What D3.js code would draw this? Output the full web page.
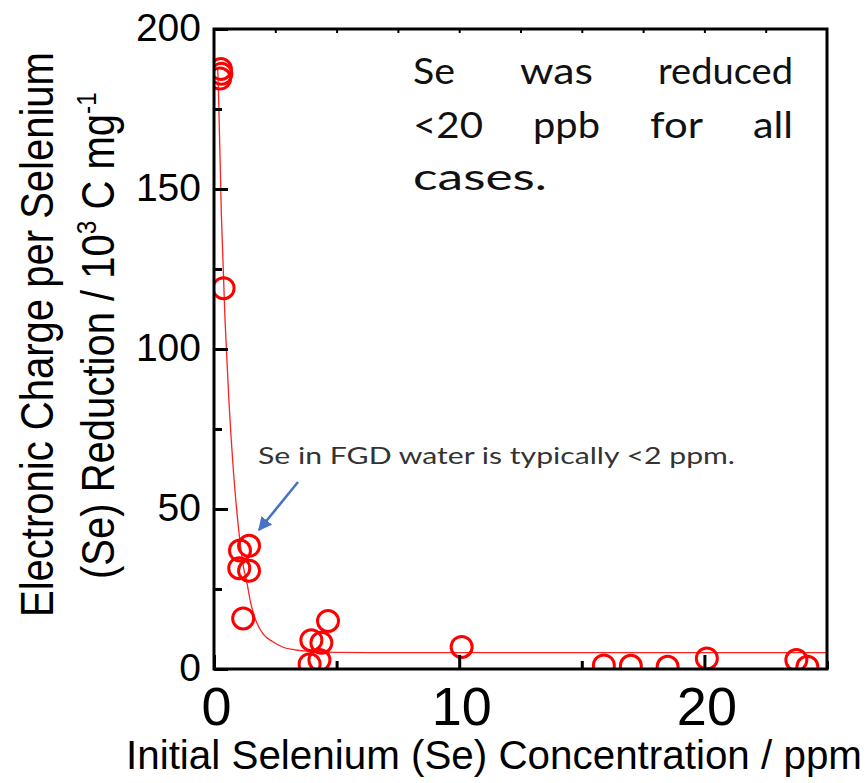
<!DOCTYPE html>
<html><head><meta charset="utf-8">
<script src="https://cdn.jsdelivr.net/npm/d3@7"></script>
<style>
html,body{margin:0;padding:0;background:#fff;}
svg{display:block;}
</style></head>
<body>
<svg id="chart" width="867" height="783"></svg>
<script>
// ---- data ----
const seConc = [0.25, 0.28, 0.30, 0.39, 1.06, 1.43, 1.03, 1.43, 1.19, 3.97, 4.38, 4.65, 3.90, 4.30, 10.1, 15.9, 17.0, 18.5, 20.1, 23.75, 24.2];
const chargePerSe = [184.5, 187.5, 186, 119, 37, 38.5, 31.5, 30.7, 15.8, 9, 8.2, 15, 1.5, 2.8, 6.9, 1.1, 1.0, 0.7, 3.3, 2.8, 0.7];
// fitted curve
const fitX = [0.15, 0.18, 0.30, 0.45, 0.60, 0.80, 1.00, 1.20, 1.33, 1.50, 1.74, 2.00, 2.40, 2.82, 3.30, 4.00, 5.00, 7.00, 10.0, 25.0];
const fitY = [188, 181, 142, 109, 85, 61, 44, 32, 27.5, 20.5, 14.5, 11, 8.5, 6.8, 6.0, 5.5, 5.2, 5.1, 5.1, 5.1];
const xMajorTicks = [0, 10, 20];
const xMinorTicks = [5, 15, 25];
const yMajorTicks = [0, 50, 100, 150, 200];
const yMinorTicks = [25, 75, 125, 175];
const topTicks = [2.5, 5, 7.5, 10, 12.5, 15, 17.5, 20, 22.5];
const noteWords = [["Se", "was", "reduced"], ["<20", "ppb", "for", "all"], ["cases."]];
const arrowNote = "Se in FGD water is typically <2 ppm.";
const xTitle = "Initial Selenium (Se) Concentration / ppm";

const svg = d3.select("#chart");
const L = 214, R = 827, T = 29, B = 669;
const x = d3.scaleLinear().domain([0, 25]).range([L, R]);
const y = d3.scaleLinear().domain([0, 200]).range([B, T]);

// clip
const defs = svg.append("defs");
defs.append("clipPath").attr("id", "plotclip")
  .append("rect").attr("x", L).attr("y", T).attr("width", R - L).attr("height", B - T);

const plot = svg.append("g").attr("clip-path", "url(#plotclip)");

// fit curve
const line = d3.line().x((d, i) => x(fitX[i])).y((d, i) => y(fitY[i])).curve(d3.curveMonotoneX);
plot.append("path").datum(fitX).attr("d", line)
  .attr("fill", "none").attr("stroke", "#ff2020").attr("stroke-width", 1.3);

// points
plot.selectAll("circle.pt").data(seConc).join("circle").attr("class", "pt")
  .attr("cx", (d) => x(d)).attr("cy", (d, i) => y(chargePerSe[i])).attr("r", 10.5)
  .attr("fill", "none").attr("stroke", "#ff0000").attr("stroke-width", 3);

// axes
const axisFont = "Liberation Sans, Arial, sans-serif";
function styleAxis(g) {
  g.select(".domain").remove();
  g.selectAll(".tick line").attr("stroke", "#000").attr("stroke-width", 3);
}
svg.append("g").attr("transform", `translate(0,${B})`)
  .call(d3.axisBottom(x).tickValues(xMajorTicks).tickSizeInner(-14).tickSizeOuter(0).tickPadding(18).tickFormat(d3.format("d")))
  .call(styleAxis)
  .call(g => g.selectAll("text").attr("font-size", 54).attr("font-family", axisFont).attr("fill", "#000").attr("dx", 2));
svg.append("g").attr("transform", `translate(0,${B})`)
  .call(d3.axisBottom(x).tickValues(xMinorTicks).tickSizeInner(-8).tickSizeOuter(0).tickFormat(""))
  .call(styleAxis);
svg.append("g").attr("transform", `translate(${L},0)`)
  .call(d3.axisLeft(y).tickValues(yMajorTicks).tickSizeInner(-14).tickSizeOuter(0).tickPadding(13).tickFormat(d3.format("d")))
  .call(styleAxis)
  .call(g => g.selectAll("text").attr("font-size", 39).attr("font-family", axisFont).attr("fill", "#000").attr("dy", "0.3em"));
svg.append("g").attr("transform", `translate(${L},0)`)
  .call(d3.axisLeft(y).tickValues(yMinorTicks).tickSizeInner(-8).tickSizeOuter(0).tickFormat(""))
  .call(styleAxis);
svg.append("g").attr("transform", `translate(0,${T})`)
  .call(d3.axisTop(x).tickValues(topTicks).tickSizeInner(-4).tickSizeOuter(0).tickFormat(""))
  .call(styleAxis)
  .call(g => g.selectAll(".tick line").attr("stroke-width", 2));

// frame
svg.append("rect").attr("x", L).attr("y", T).attr("width", R - L).attr("height", B - T)
  .attr("fill", "none").attr("stroke", "#000").attr("stroke-width", 3);

// x title
svg.append("text").attr("x", 126).attr("y", 769).attr("font-family", axisFont)
  .attr("font-size", 40).attr("textLength", 736).attr("lengthAdjust", "spacingAndGlyphs")
  .attr("fill", "#000").text(xTitle);

// y title
svg.append("text").attr("transform", "translate(53,617) rotate(-90) scale(0.87,1)")
  .attr("font-family", axisFont).attr("font-size", 46).attr("fill", "#000")
  .text("Electronic Charge per Selenium");
const yt2 = svg.append("text").attr("transform", "translate(114,579) rotate(-90) scale(0.87,1)")
  .attr("font-family", axisFont).attr("font-size", 46).attr("fill", "#000");
yt2.append("tspan").text("(Se) Reduction / 10");
yt2.append("tspan").attr("font-size", 28).attr("dy", -18).text("3");
yt2.append("tspan").attr("dy", 18).text(" C mg");
yt2.append("tspan").attr("font-size", 28).attr("dy", -18).text("-1");

// justified note (top right); the reference face is a wide geometric sans,
// so each word is stretched horizontally to its measured width
const noteFont = "Lato, 'Open Sans', sans-serif";
const noteLeft = 413, noteRight = 793, noteBase = [84, 138, 190];
const noteWordWidths = [[42, 73, 135], [70, 67, 53, 40], [134]];
noteWords.forEach((words, li) => {
  const g = svg.append("g");
  const widths = noteWordWidths[li];
  const nodes = words.map((w, i) => g.append("text").attr("font-family", noteFont).attr("font-size", 37)
    .attr("font-weight", 400).attr("fill", "#111").attr("y", noteBase[li])
    .attr("textLength", widths[i]).attr("lengthAdjust", "spacingAndGlyphs").text(w));
  const total = d3.sum(widths);
  const justify = li < noteWords.length - 1 && words.length > 1;
  const gap = justify ? (noteRight - noteLeft - total) / (words.length - 1) : 10;
  let cx = noteLeft;
  nodes.forEach((n, i) => { n.attr("x", cx); cx += widths[i] + gap; });
});

// arrow annotation
svg.append("text").attr("x", 258).attr("y", 464).attr("font-family", noteFont)
  .attr("font-size", 24).attr("font-weight", 400).attr("fill", "#333")
  .attr("textLength", 477).attr("lengthAdjust", "spacingAndGlyphs").text(arrowNote);
defs.append("marker").attr("id", "ah").attr("viewBox", "0 0 10 10")
  .attr("refX", 9).attr("refY", 5).attr("markerWidth", 5.5).attr("markerHeight", 5.5)
  .attr("markerUnits", "strokeWidth").attr("orient", "auto")
  .append("path").attr("d", "M0,0 L10,5 L0,10 z").attr("fill", "#4472C4");
svg.append("line").attr("x1", 298).attr("y1", 482).attr("x2", 259).attr("y2", 530)
  .attr("stroke", "#4472C4").attr("stroke-width", 2.5).attr("marker-end", "url(#ah)");
</script>
</body></html>
